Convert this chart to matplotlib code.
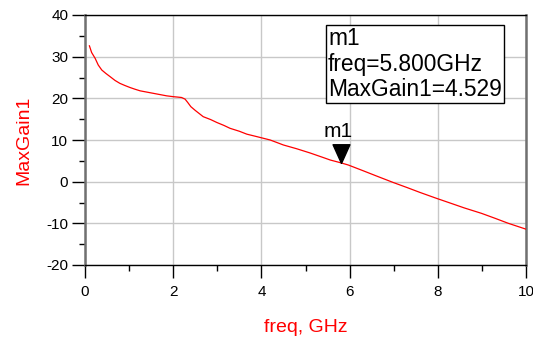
import matplotlib
matplotlib.use("Agg")
import matplotlib.pyplot as plt
from matplotlib.ticker import MultipleLocator

plt.rcParams['font.family'] = ['Liberation Sans', 'DejaVu Sans']
plt.rcParams['axes.unicode_minus'] = False

freq = [0.1, 0.15, 0.23, 0.3, 0.38, 0.47, 0.57, 0.68, 0.79, 0.9, 1.02, 1.13, 1.25,
        1.4, 1.55, 1.7, 1.85, 2.0, 2.1, 2.19, 2.27, 2.33, 2.4, 2.5, 2.68, 2.85, 2.99,
        3.15, 3.29, 3.5, 3.67, 3.9, 4.2, 4.5, 4.8, 5.1, 5.4, 5.56, 5.8, 5.97, 6.3,
        6.6, 6.99, 7.3, 7.6, 7.97, 8.3, 8.6, 8.99, 9.3, 9.6, 10.0]
gain = [32.6, 31.0, 29.6, 28.0, 26.8, 26.0, 25.2, 24.3, 23.6, 23.1, 22.6, 22.2, 21.8,
        21.5, 21.2, 20.9, 20.6, 20.4, 20.3, 20.2, 19.8, 19.0, 18.0, 17.1, 15.6, 14.9, 14.2,
        13.5, 12.8, 12.1, 11.4, 10.8, 10.0, 8.8, 7.9, 6.9, 5.8, 5.2, 4.53, 4.0, 2.65,
        1.4, -0.2, -1.4, -2.6, -4.0, -5.2, -6.3, -7.6, -8.8, -10.0, -11.4]

marker_name = "m1"
marker_freq = 5.8
marker_val = 4.529
xticks = [0, 2, 4, 6, 8, 10]
yticks = [-20, -10, 0, 10, 20, 30, 40]

fig = plt.figure(figsize=(5.33, 3.39), dpi=100)
ax = fig.add_axes([85/533, 74/339, 441/533, 250/339])

ax.plot(freq, gain, color='#ff0000', lw=0.9, zorder=3)

ax.set_xlim(0, 10)
ax.set_ylim(-20, 40)
ax.set_xticks(xticks)
ax.set_yticks(yticks)
ax.xaxis.set_minor_locator(MultipleLocator(1))
ax.yaxis.set_minor_locator(MultipleLocator(5))
ax.grid(True, which='major', color='#c8c8c8', lw=1.0)
ax.set_axisbelow(True)

ax.tick_params(which='major', direction='out', length=9.5, width=1, color='black',
               labelsize=11, labelcolor='black')
ax.tick_params(axis='x', which='major', pad=5)
ax.tick_params(axis='y', which='major', pad=2.5)
ax.tick_params(which='minor', direction='out', length=4.5, width=1, color='black')

for s in ['top', 'bottom']:
    ax.spines[s].set_color('black')
    ax.spines[s].set_linewidth(1.0)
for s in ['left', 'right']:
    ax.spines[s].set_color('#707070')
    ax.spines[s].set_linewidth(1.8)

ax.set_xlabel('freq, GHz', color='#ff0000', fontsize=14, labelpad=14)
ax.set_ylabel('MaxGain1', color='#ff0000', fontsize=14, labelpad=10)

# marker triangle with tip at data point
tri = [(0, 0), (-0.45, 1), (0.45, 1), (0, 0)]
ax.plot([marker_freq], [marker_val], marker=tri, markersize=27, color='black',
        linestyle='none', zorder=5, clip_on=False)
ax.annotate(marker_name, xy=(marker_freq, marker_val), xytext=(-2, 16),
            textcoords='offset points', ha='center', va='bottom', fontsize=15,
            color='black')

ax.text(0.551, 0.952,
        f"{marker_name}\nfreq={marker_freq:.3f}GHz\nMaxGain1={marker_val:.3f}",
        transform=ax.transAxes, ha='left', va='top', fontsize=16.4,
        linespacing=1.15, color='black',
        bbox=dict(boxstyle='square,pad=0.08', facecolor='white', edgecolor='black', lw=1.0))

fig.savefig('out.png', dpi=100)
